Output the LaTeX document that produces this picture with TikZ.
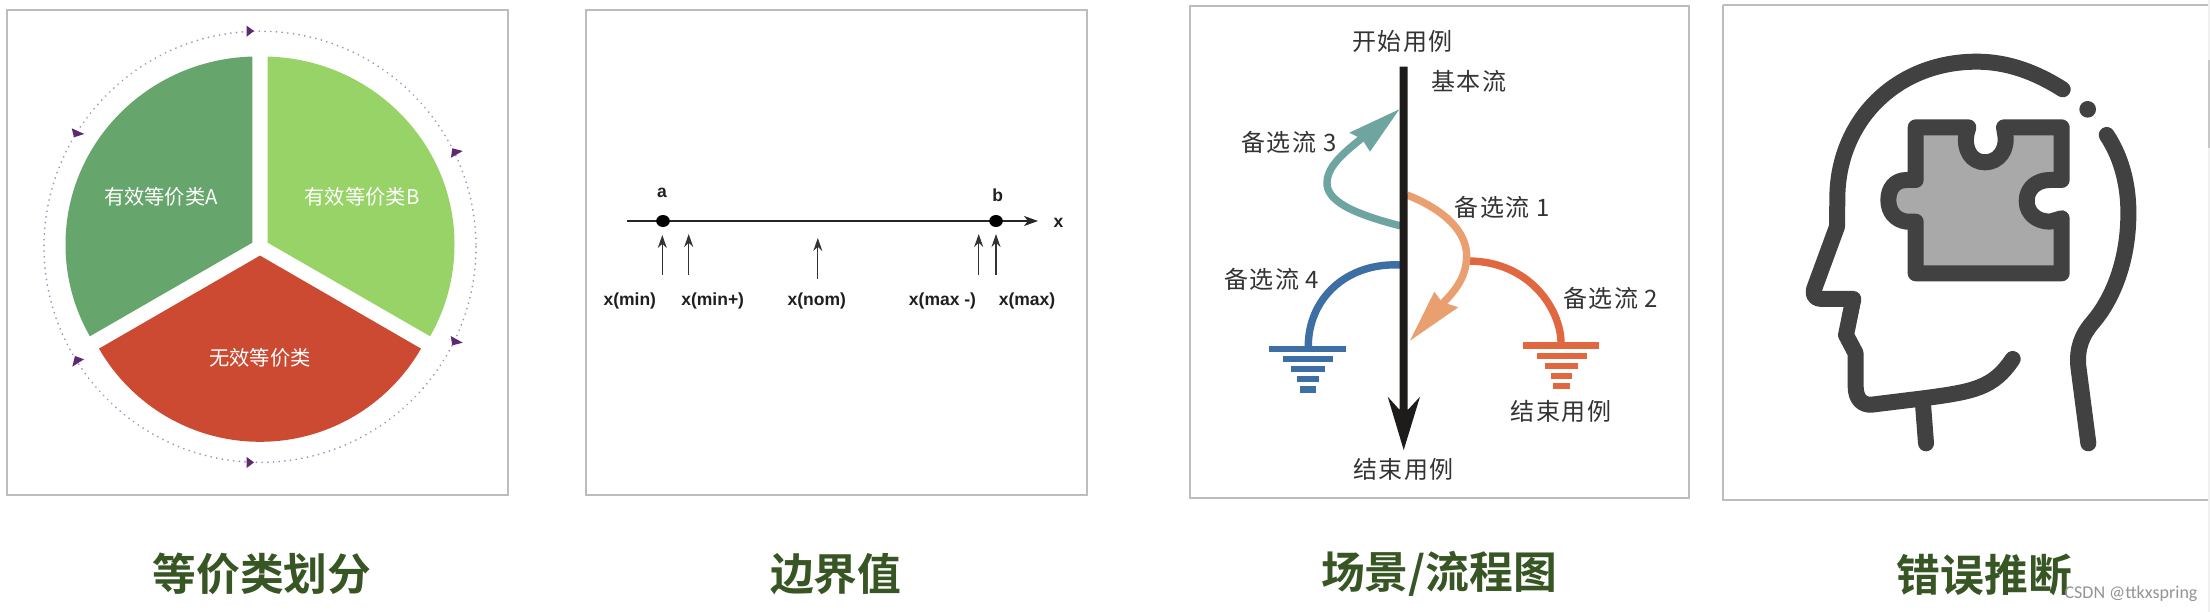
\documentclass[tikz,border=0pt]{standalone}
\usepackage{fontspec}
\setmainfont{Liberation Sans}
\newfontfamily\cjk{Noto Sans CJK SC}
\newfontfamily\cjkwide[LetterSpace=6]{Noto Sans CJK SC}
\newfontfamily\cjkbold{Noto Sans CJK SC Bold}
\newfontfamily\markfont{Carlito}
\definecolor{boxgray}{HTML}{BDBDBD}
\definecolor{titlegreen}{HTML}{375623}
\definecolor{pieA}{HTML}{66A56B}
\definecolor{pieB}{HTML}{98D368}
\definecolor{pieC}{HTML}{CC4A32}
\definecolor{ringdot}{HTML}{A88BB8}
\definecolor{ringtip}{HTML}{5C2A72}
\definecolor{flowtext}{HTML}{333333}
\definecolor{flowblack}{HTML}{1E1C1A}
\definecolor{flowteal}{HTML}{6FA5A0}
\definecolor{floworange}{HTML}{E99F6F}
\definecolor{flowred}{HTML}{E0673F}
\definecolor{flowblue}{HTML}{3D6FA5}
\definecolor{headgray}{HTML}{414141}
\definecolor{piecegray}{HTML}{A9A9A9}
\tikzset{
  x=1pt,y=-1pt,
  panel/.style={draw=boxgray,line width=2pt,fill=white},
  title/.style={text=titlegreen,font={\fontsize{43.8}{50}\cjkbold},anchor=center,inner sep=0},
  pielabel/.style={text=white,font={\fontsize{20.3}{24}\cjk},inner sep=0},
  axislabel/.style={font={\fontsize{17.5}{21}\selectfont\bfseries},text=black!88,inner sep=0},
  uparrow/.style={draw=black!80,line width=1.3pt,-{Stealth[length=13pt,width=9pt]}},
  flowlabel/.style={text=flowtext,font={\fontsize{24}{28}\cjkwide},inner sep=0},
  curve/.style={line width=7.4pt},
  headline/.style={draw=headgray,line width=16pt,line cap=round,line join=round},
  ringtipshape/.style={fill=ringtip},
}
\usetikzlibrary{arrows.meta}
\begin{document}
\begin{tikzpicture}
\useasboundingbox (0,0) rectangle (2210,612);
\fill[white] (0,0) rectangle (2210,612);
\fill[black!6] (2208,0) rectangle (2210,612);
\fill[black!22] (2208,60) rectangle (2210,148);

% panels
\path[panel] (6.7,10.5) rectangle (507.7,495);
\path[panel] (586,10.5) rectangle (1086.6,495);
\path[panel] (1190,6) rectangle (1689,498);
\path[panel] (1723.3,5) -- (2208,5) (1723.3,5) -- (1723.3,500) -- (2208,500);

% ---------- panel 1: pie
\draw[ringdot,line width=1.9pt,line cap=round,dash pattern=on 0.01pt off 5.7pt] (260,246.8) ellipse [x radius=216,y radius=215.6];
\begin{scope}
  \clip (252.3,40) -- (252.3,242.7) -- (40,365) -- (40,40) -- cycle;
  \fill[pieA] (257.5,244.5) ellipse [x radius=192,y radius=188];
\end{scope}
\begin{scope}
  \clip (267.7,40) -- (267.7,242.7) -- (480,365) -- (480,40) -- cycle;
  \fill[pieB] (262.5,244.5) ellipse [x radius=192,y radius=188];
\end{scope}
\begin{scope}
  \clip (260,255.6) -- (480,382.7) -- (480,460) -- (40,460) -- (40,382.7) -- cycle;
  \fill[pieC] (260,256.2) circle [radius=185.6];
\end{scope}
\fill[ringtipshape] (246.7,25.7) -- (254,31) -- (246.7,36.7) -- cycle;
\fill[ringtipshape] (71.7,128.3) -- (84.3,134) -- (74,137.3) -- cycle;
\fill[ringtipshape] (452.3,148.3) -- (462.7,151) -- (451,157.7) -- cycle;
\fill[ringtipshape] (450.7,336) -- (462.7,342.7) -- (452.3,345.3) -- cycle;
\fill[ringtipshape] (75,356) -- (84,359.3) -- (72.3,366.7) -- cycle;
\fill[ringtipshape] (246.7,457) -- (254,462.4) -- (246.7,468) -- cycle;
\node[pielabel] (pa) at (161,197) {有效等价类A};
\node[pielabel] (pb) at (362,197) {有效等价类B};
\node[pielabel] (pc) at (260,357.5) {无效等价类};

% ---------- panel 2: boundary axis
\coordinate (axL) at (626.8,221);
\coordinate (axR) at (1038,221);
\draw[black!85,line width=1.4pt,-{Stealth[length=14pt,width=10pt,inset=4pt]}] (axL) -- (axR);
\fill[black] (663,221) coordinate (da) ellipse [x radius=6.8,y radius=6];
\fill[black] (996,221) coordinate (db) ellipse [x radius=6.8,y radius=6];
\node[axislabel] (la) at (662,192.5) {a};
\node[axislabel] (lb) at (997.6,195) {b};
\node[axislabel] (lx) at (1058.5,223) {x};
\node[axislabel] (l1) at (629.8,300.7) {x(min)};
\node[axislabel] (l2) at (712.7,300.7) {x(min+)};
\node[axislabel] (l3) at (816.8,300.7) {x(nom)};
\node[axislabel] (l4) at (942.5,300.7) {x(max -)};
\node[axislabel] (l5) at (1027,300.7) {x(max)};
\coordinate (u1a) at (662.3,275); \coordinate (u1b) at (662.3,235);
\coordinate (u2a) at (688.7,275); \coordinate (u2b) at (688.7,234);
\coordinate (u3a) at (817.8,279); \coordinate (u3b) at (817.8,238);
\coordinate (u4a) at (978.7,275); \coordinate (u4b) at (978.7,234);
\coordinate (u5a) at (996,275);   \coordinate (u5b) at (996,234);
\draw[uparrow] (u1a) -- (u1b);
\draw[uparrow] (u2a) -- (u2b);
\draw[uparrow] (u3a) -- (u3b);
\draw[uparrow] (u4a) -- (u4b);
\draw[uparrow] (u5a) -- (u5b);

% ---------- panel 3: flow
\node[flowlabel] (start) at (1402.7,41) {开始用例};
\node[flowlabel] (basic) at (1468.7,81.7) {基本流};
\node[flowlabel] (alt3) at (1289,142.7) {备选流 3};
\node[flowlabel] (alt1) at (1502.3,207.3) {备选流 1};
\node[flowlabel] (alt4) at (1271.7,279.3) {备选流 4};
\node[flowlabel] (alt2) at (1610.7,298.3) {备选流 2};
\node[flowlabel] (endR) at (1561,411) {结束用例};
\node[flowlabel] (endB) at (1403.3,469) {结束用例};

% teal
\coordinate (t0) at (1401,226);
\coordinate (t1) at (1327,182);
\coordinate (t2) at (1362,138);
\draw[flowteal,curve] (t0) .. controls (1350,213) and (1326,200) .. (t1) .. controls (1328,165) and (1345,152) .. (t2);
\fill[flowteal] (1399.3,109.3) -- (1349.3,132.7) -- (1362,139) -- (1370,151.7) -- cycle;
% orange-red (drawn before the orange it branches from)
\coordinate (r0) at (1468,261);
\coordinate (r1) at (1561,343);
\draw[flowred,curve] (r0) .. controls (1530,261) and (1561,310) .. (r1);
\fill[flowred] (1523.3,342.4) rectangle (1599.3,349);
\fill[flowred] (1536.7,352.5) rectangle (1586.7,359);
\fill[flowred] (1544.7,362.5) rectangle (1578,369);
\fill[flowred] (1550.7,372.5) rectangle (1572.3,379);
\fill[flowred] (1553,382.7) rectangle (1570,389.3);
% orange
\coordinate (o0) at (1407,195);
\coordinate (o1) at (1466.7,256.7);
\coordinate (o2) at (1443,303);
\draw[floworange,curve] (o0) .. controls (1445,210) and (1467,232) .. (o1) .. controls (1466,275) and (1458,288) .. (o2);
\fill[floworange] (1410,340.7) -- (1434.3,291.7) -- (1442,302) -- (1458.3,307.3) -- cycle;
% blue
\coordinate (b0) at (1401,265);
\coordinate (b1) at (1308.3,346);
\draw[flowblue,curve] (b0) .. controls (1345,262) and (1308.3,300) .. (b1);
\fill[flowblue] (1269.3,345.7) rectangle (1346,352.3);
\fill[flowblue] (1283.3,355.7) rectangle (1332.7,362.3);
\fill[flowblue] (1291.3,365.7) rectangle (1324.7,372.3);
\fill[flowblue] (1297,375.7) rectangle (1319,382.3);
\fill[flowblue] (1299.7,386) rectangle (1316.3,392.6);
% main flow
\fill[flowblack] (1399.7,66.7) -- (1407.7,66.7) -- (1407.7,410) -- (1420,396.7) -- (1403.7,450) -- (1387.7,396.7) -- (1399.7,410) -- cycle;

% ---------- panel 4: head
\begin{scope}[xshift=1710pt,scale=1/3]
  \draw[headline]
    (1058,268) .. controls (975,215) and (890,185) .. (800,185)
    .. controls (560,185) and (385,360) .. (382,590)
    -- (381,680) -- (312,868) .. controls (308,885) and (315,897) .. (335,897)
    -- (430,897) -- (408,1005) -- (437,1060) -- (437,1160)
    .. controls (437,1195) and (455,1216) .. (485,1214)
    -- (640,1195) .. controls (790,1175) and (850,1165) .. (908,1077);
  \draw[headline] (638,1200) -- (648,1330);
  \draw[headline] (1190,405) .. controls (1240,480) and (1257,570) .. (1255,650)
    .. controls (1253,790) and (1205,900) .. (1150,965)
    .. controls (1115,1005) and (1100,1045) .. (1105,1100)
    -- (1135,1330);
  \fill[headgray] (1133,328) circle [radius=25];
  \draw[headline,fill=piecegray,line cap=butt]
    (617,382) -- (775,382) -- (770,400)
    .. controls (760,450) and (785,487) .. (825,487)
    .. controls (865,487) and (895,450) .. (885,400)
    -- (882,382) -- (1055,382) -- (1055,540) -- (1020,540)
    .. controls (980,540) and (950,565) .. (950,603)
    .. controls (950,640) and (980,665) .. (1020,665)
    -- (1055,655) -- (1055,820) -- (617,820) -- (617,665) -- (590,665)
    .. controls (555,660) and (535,635) .. (535,600)
    .. controls (535,565) and (555,540) .. (590,540)
    -- (617,540) -- cycle;
\end{scope}

% ---------- titles
\node[title] (t1n) at (262,574) {等价类划分};
\node[title] (t2n) at (835.8,574) {边界值};
\node[title] (t3n) at (1439,574) {场景/流程图};
\node[title] (t4n) at (1984.5,575) {错误推断};
\node[anchor=center,inner sep=0,text=black!42,font={\fontsize{18}{20}\markfont}] (mark) at (2131,594) {CSDN @ttkxspring};
\end{tikzpicture}
\end{document}
